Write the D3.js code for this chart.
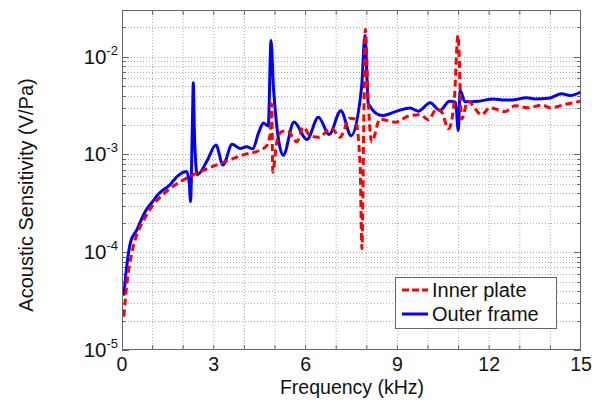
<!DOCTYPE html>
<html><head><meta charset="utf-8">
<script src="https://cdn.jsdelivr.net/npm/d3@7"></script>
<style>body{margin:0;background:#fff}svg{display:block}</style>
</head><body>
<svg id="c" width="603" height="400"></svg>
<script>
const innerFreq = [0.06,0.15,0.25,0.37,0.55,0.75,1.0,1.3,1.7,2.2,2.8,3.4,4.0,4.46,4.73,4.84,4.89,4.93,5.05,5.2,5.4,5.71,5.92,6.15,6.42,6.85,7.12,7.45,7.62,7.78,7.84,7.9,7.95,8.05,8.16,8.43,8.92,9.41,9.75,10.01,10.28,10.45,10.67,10.85,10.98,11.1,11.3,11.75,12.03,12.52,12.84,13.28,13.72,14.0,14.48,15.0];
const innerVal  = [2.2e-5,4.5e-5,7.5e-5,1.15e-4,1.7e-4,2.25e-4,3.0e-4,3.8e-4,4.8e-4,5.9e-4,7.2e-4,8.5e-4,1.0e-3,1.09e-3,1.23e-3,1.6e-3,3.3e-3,6.6e-4,1.3e-3,1.7e-3,1.75e-3,1.35e-3,1.9e-3,1.55e-3,1.5e-3,1.85e-3,1.5e-3,2.35e-3,2.3e-3,8e-4,1.09e-4,2e-3,1.9e-2,3.3e-3,1.34e-3,2.3e-3,2.14e-3,2.5e-3,2.55e-3,2.26e-3,2.92e-3,2.7e-3,1.83e-3,3.3e-3,1.65e-2,2.3e-3,3.5e-3,2.55e-3,3.0e-3,2.75e-3,3.15e-3,3.0e-3,3.2e-3,3.0e-3,3.25e-3,3.5e-3];
const outerFreq = [0.06,0.15,0.28,0.48,0.75,1.0,1.2,1.57,1.84,2.11,2.2,2.24,2.3,2.33,2.37,2.46,2.77,3.07,3.3,3.6,3.86,4.07,4.27,4.46,4.62,4.78,4.87,4.95,5.27,5.62,6.04,6.42,6.77,7.15,7.49,7.83,7.94,8.05,8.49,8.98,9.41,9.68,10.07,10.39,10.7,10.9,10.99,11.05,11.21,11.65,12.13,12.5,12.73,13.22,13.5,13.93,14.37,14.64,15.0];
const outerVal  = [3.6e-5,7e-5,1.27e-4,1.68e-4,2.58e-4,3.3e-4,3.97e-4,4.9e-4,6.1e-4,6.7e-4,5.0e-4,3.3e-4,2.0e-3,5.4e-3,1.5e-3,6.2e-4,8.5e-4,1.25e-3,7.8e-4,1.27e-3,1.15e-3,1.2e-3,1.14e-3,1.65e-3,2.1e-3,1.95e-3,1.46e-2,4.8e-3,9.8e-4,2.15e-3,1.42e-3,2.4e-3,1.6e-3,2.8e-3,1.55e-3,4.9e-3,1.65e-2,3.3e-3,2.5e-3,2.77e-3,2.99e-3,2.77e-3,3.38e-3,2.81e-3,3.5e-3,3.42e-3,1.76e-3,4.5e-3,3.45e-3,3.5e-3,3.7e-3,3.6e-3,3.6e-3,3.8e-3,3.7e-3,3.75e-3,4.17e-3,4.0e-3,4.35e-3];
const xTicks = [0,3,6,9,12,15];
const yTickExps = [-5,-4,-3,-2];
const seriesNames = ["Inner plate","Outer frame"];

const svg = d3.select("#c");
const L=122,R=581,T=10,B=350;
const x = d3.scaleLinear().domain([0,15]).range([L,R]);
const y = d3.scaleLog().domain([1e-5,3e-2]).range([B,T]);
const font = "'Liberation Sans', Arial, sans-serif";
const gridC = "#b0b0b0", axC = "#666";

// grid
const g = svg.append("g");
for(let f=1; f<15; f++){
  g.append("line").attr("x1",x(f)).attr("x2",x(f)).attr("y1",T).attr("y2",B)
   .attr("stroke",gridC).attr("stroke-width",1).attr("stroke-dasharray","1,2");
}
const minor=[];
for(let e=-5;e<=-2;e++) for(let m=1;m<=9;m++){ const v=m*Math.pow(10,e); if(v>1e-5 && v<3e-2) minor.push(v); }
minor.forEach(v=>{
  const yy=Math.round(y(v))+0.5;
  g.append("line").attr("x1",L).attr("x2",R).attr("y1",yy).attr("y2",yy)
   .attr("stroke",gridC).attr("stroke-width",1).attr("stroke-dasharray","1,2");
  g.append("line").attr("x1",L).attr("x2",L+4).attr("y1",yy).attr("y2",yy).attr("stroke",axC);
  g.append("line").attr("x1",R-4).attr("x2",R).attr("y1",yy).attr("y2",yy).attr("stroke",axC);
});
for(let f=1; f<15; f++){
  g.append("line").attr("x1",x(f)).attr("x2",x(f)).attr("y1",B).attr("y2",B-5).attr("stroke",axC);
  g.append("line").attr("x1",x(f)).attr("x2",x(f)).attr("y1",T).attr("y2",T+5).attr("stroke",axC);
}
yTickExps.forEach(e=>{
  const yy=Math.round(y(Math.pow(10,e)))+0.5;
  g.append("line").attr("x1",L).attr("x2",L+7).attr("y1",yy).attr("y2",yy).attr("stroke",axC);
  g.append("line").attr("x1",R-7).attr("x2",R).attr("y1",yy).attr("y2",yy).attr("stroke",axC);
});

// lines
const line = d3.line().x(d=>x(d[0])).y(d=>y(d[1])).curve(d3.curveMonotoneX);
const inner = innerFreq.map((f,i)=>[f,innerVal[i]]);
const outer = outerFreq.map((f,i)=>[f,outerVal[i]]);
svg.append("path").datum(outer).attr("d",line).attr("fill","none").attr("stroke","#0000ff").attr("stroke-width",3).attr("stroke-linejoin","round");
svg.append("path").datum(inner).attr("d",line).attr("fill","none").attr("stroke","#ff0000").attr("stroke-width",3).attr("stroke-dasharray","7,4");

// box
svg.append("rect").attr("x",L+0.5).attr("y",T+0.5).attr("width",R-L-1).attr("height",B-T-1).attr("fill","none").attr("stroke",axC).attr("stroke-width",1);

// tick labels
xTicks.forEach(t=>{
  svg.append("text").attr("x",x(t)).attr("y",371).attr("text-anchor","middle")
    .attr("font-family",font).attr("font-size",19.5).attr("fill","#111").text(t);
});
yTickExps.forEach(e=>{
  const yy=y(Math.pow(10,e));
  const t = svg.append("text").attr("x",L-4).attr("y",yy+7).attr("text-anchor","end")
    .attr("font-family",font).attr("font-size",20.5).attr("fill","#111");
  t.append("tspan").text("10");
  t.append("tspan").attr("dy",-9).attr("font-size",13).text(String(e));
});
svg.append("text").attr("x",352).attr("y",394).attr("text-anchor","middle")
  .attr("font-family",font).attr("font-size",19.5).attr("fill","#111").text("Frequency (kHz)");
svg.append("text").attr("transform",`translate(33,195) rotate(-90)`).attr("text-anchor","middle")
  .attr("font-family",font).attr("font-size",20).attr("fill","#111").text("Acoustic Sensitivity (V/Pa)");

// legend
const lg = svg.append("g");
lg.append("rect").attr("x",395.5).attr("y",277.5).attr("width",161).attr("height",51).attr("fill","#fff").attr("stroke",axC);
lg.append("line").attr("x1",402).attr("x2",428).attr("y1",290).attr("y2",290).attr("stroke","#ff0000").attr("stroke-width",3).attr("stroke-dasharray","7,3");
lg.append("line").attr("x1",402).attr("x2",428).attr("y1",314).attr("y2",314).attr("stroke","#0000ff").attr("stroke-width",3);
lg.append("text").attr("x",432).attr("y",297).attr("font-family",font).attr("font-size",20).attr("fill","#111").text(seriesNames[0]);
lg.append("text").attr("x",432).attr("y",321).attr("font-family",font).attr("font-size",20).attr("fill","#111").text(seriesNames[1]);
</script>
</body></html>
